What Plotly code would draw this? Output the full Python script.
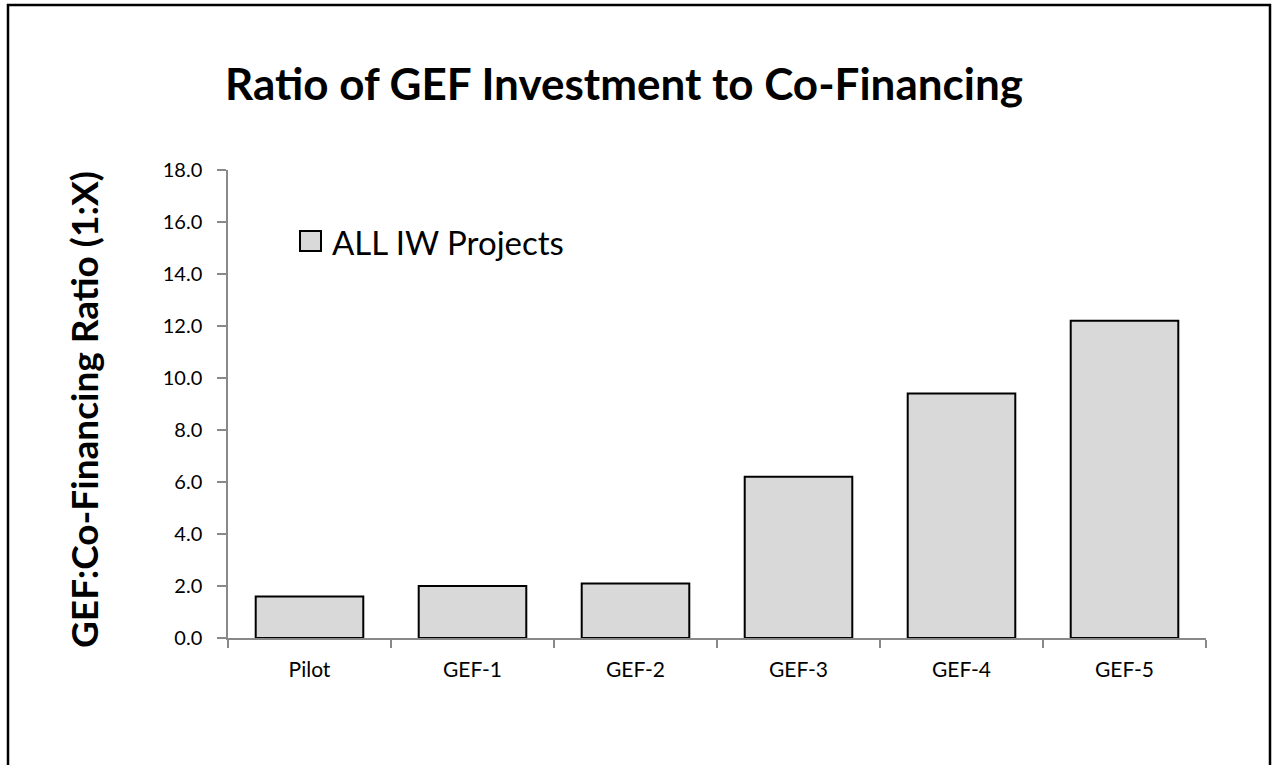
import plotly.graph_objects as go

categories = ["Pilot", "GEF-1", "GEF-2", "GEF-3", "GEF-4", "GEF-5"]
ratios = [1.6, 2.0, 2.1, 6.2, 9.4, 12.2]
series_name = "ALL IW Projects"
y_ticks = [0, 2, 4, 6, 8, 10, 12, 14, 16, 18]

FONT = "Lato, Calibri, 'Open Sans', sans-serif"
W, H = 1273, 765
L, T = 228, 170
pw, ph = 978, 468
R, B = W - L - pw, H - T - ph

def px(x):
    return (x - L) / pw

def py(y):
    return (T + ph - y) / ph

fig = go.Figure()
fig.add_trace(go.Bar(
    x=categories, y=ratios, name=series_name, width=0.66,
    marker=dict(color="#d9d9d9", line=dict(color="black", width=2)),
    showlegend=False,
))

fig.update_layout(
    width=W, height=H,
    margin=dict(l=L, r=R, t=T, b=B),
    paper_bgcolor="white", plot_bgcolor="white",
    font=dict(family=FONT, color="black"),
    title=dict(text="<b>Ratio of GEF Investment to Co-Financing</b>",
               x=624 / W, xanchor="center", y=1 - 85 / H, yanchor="middle",
               yref="container", font=dict(size=44, family=FONT, color="black")),
)
fig.update_xaxes(
    showline=True, linecolor="#898989", linewidth=1.5,
    ticks="outside", tickson="boundaries", ticklen=8, tickcolor="#898989", tickwidth=1.5,
    tickfont=dict(size=21, family=FONT), showgrid=False, ticklabelstandoff=12,
)
fig.update_yaxes(
    range=[0, 18], tickvals=y_ticks, tickformat=".1f",
    showline=True, linecolor="#898989", linewidth=1.5,
    ticks="outside", ticklen=9, tickcolor="#898989", tickwidth=1.5,
    tickfont=dict(size=20, family=FONT), showgrid=False, zeroline=False,
    ticklabelstandoff=11,
)

# Y-axis title
fig.add_annotation(text="<b>GEF:Co-Financing Ratio (1:X)</b>", textangle=-90,
                   xref="paper", yref="paper", x=px(83), y=py(410),
                   xanchor="center", yanchor="middle",
                   showarrow=False, font=dict(size=37, family=FONT, color="black"))

# Legend (manual to match large swatch)
fig.add_shape(type="rect", xref="paper", yref="paper",
              x0=px(300), x1=px(321), y0=py(251), y1=py(231),
              fillcolor="#d9d9d9", line=dict(color="black", width=2))
fig.add_annotation(text=series_name, xref="paper", yref="paper",
                   x=px(330), y=py(242), xanchor="left", yanchor="middle",
                   showarrow=False, font=dict(size=33, family=FONT, color="black"))

# Outer frame
fig.add_shape(type="rect", xref="paper", yref="paper",
              x0=px(8), x1=px(1270), y0=py(790), y1=py(5),
              line=dict(color="black", width=2.5), fillcolor="rgba(0,0,0,0)", layer="below")

fig.write_html("out.html", config={"displayModeBar": False},
               post_script="document.body.style.margin='0';document.body.style.overflow='hidden';")
